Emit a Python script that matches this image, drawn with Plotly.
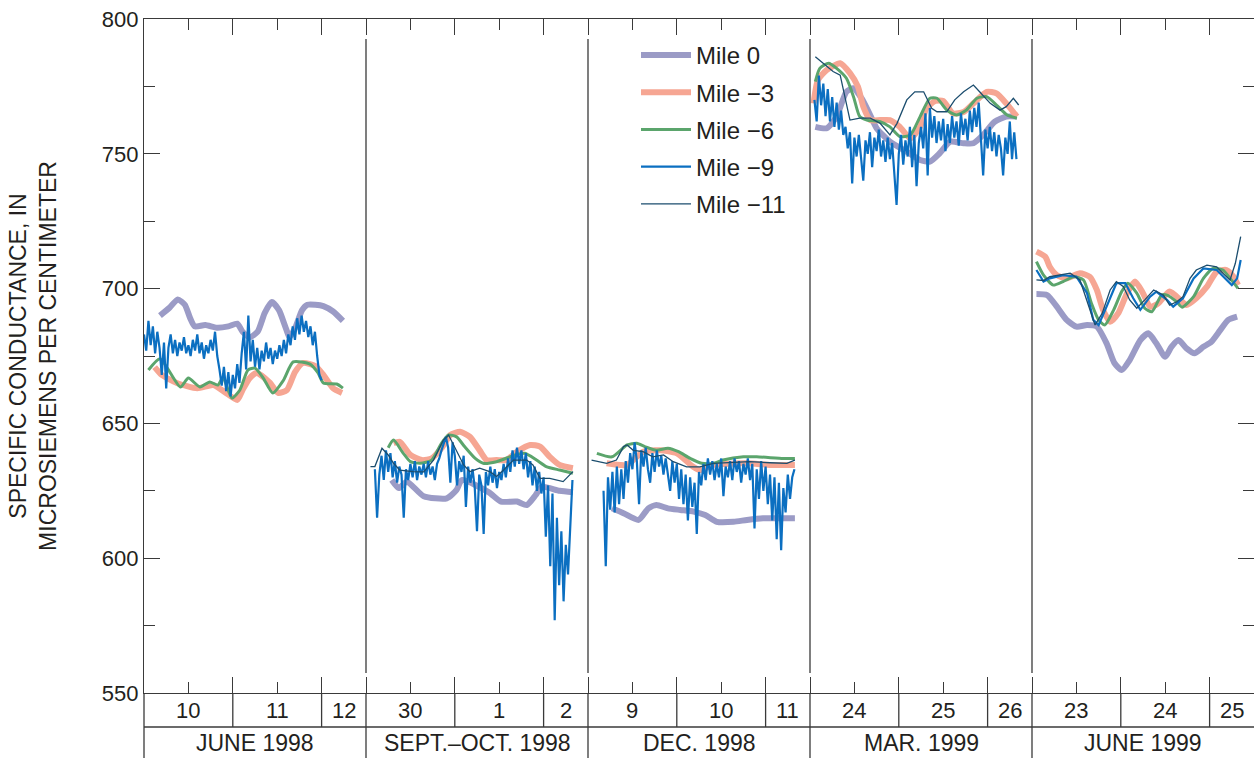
import plotly.graph_objects as go

# ---------------- DATA ----------------
PANEL_LABELS = ["JUNE 1998", "SEPT.\u2013OCT. 1998", "DEC. 1998", "MAR. 1999", "JUNE 1999"]
DAY_LABELS = [["10", "11", "12"], ["30", "1", "2"], ["9", "10", "11"], ["24", "25", "26"], ["23", "24", "25"]]
PANEL_DAYS = 2.5
Y_TICKS = [550, 600, 650, 700, 750, 800]
Y_MINOR = [575, 625, 675, 725, 775]

# Mile 0
M0_P1_T = [0.18, 0.29, 0.38, 0.46, 0.52, 0.57, 0.69, 0.82, 0.95, 1.05, 1.11, 1.19, 1.28, 1.36, 1.44, 1.52, 1.59, 1.64, 1.71, 1.78, 1.84, 1.93, 2.02, 2.13, 2.24]
M0_P1_V = [690, 693, 696, 694, 689, 686, 686.5, 685.5, 686, 687, 684, 682, 684, 691, 695, 692, 686, 682, 686, 692, 694, 694, 693.5, 691.5, 688]
M0_P2_T = [0.29, 0.37, 0.46, 0.65, 0.91, 1.02, 1.08, 1.38, 1.52, 1.70, 1.81, 1.91, 1.98, 2.18, 2.33]
M0_P2_V = [629, 626, 628.4, 623, 622.2, 625.3, 629, 624.5, 621, 621, 619.7, 623.4, 626.5, 625, 624.5]
M0_P3_T = [0.27, 0.40, 0.57, 0.68, 0.77, 0.90, 1.04, 1.19, 1.32, 1.45, 1.64, 1.79, 1.97, 2.12, 2.33]
M0_P3_V = [618.5, 616.7, 614.2, 618.5, 619.7, 618.5, 617.9, 617.3, 616, 613.5, 613.5, 614.2, 614.8, 614.8, 614.8]
M0_P4_T = [0.06, 0.19, 0.30, 0.41, 0.49, 0.58, 0.66, 0.75, 0.90, 1.09, 1.24, 1.35, 1.46, 1.58, 1.73, 1.84, 1.95, 2.08, 2.21, 2.33]
M0_P4_V = [760, 759.5, 763.8, 773, 774.3, 770.6, 765.6, 759.5, 754.5, 750.8, 747.7, 747.1, 750.2, 754.5, 753.9, 753.9, 757, 761.9, 763.8, 763.8]
M0_P5_T = [0.05, 0.17, 0.28, 0.39, 0.50, 0.62, 0.73, 0.84, 0.93, 1.01, 1.10, 1.22, 1.31, 1.40, 1.50, 1.57, 1.65, 1.74, 1.83, 1.93, 2.02, 2.12, 2.21, 2.31]
M0_P5_V = [698, 697.6, 693.3, 688.4, 685.9, 686.5, 685.9, 679.7, 672.3, 669.8, 673.5, 680.9, 683.4, 679.7, 674.7, 678.4, 680.9, 677.8, 676, 678.4, 680.3, 684.6, 688.4, 689.6]

# Mile -3
M3_P1_T = [0.12, 0.20, 0.37, 0.60, 0.78, 0.91, 1.05, 1.11, 1.19, 1.27, 1.42, 1.51, 1.61, 1.70, 1.79, 1.93, 2.02, 2.13, 2.23]
M3_P1_V = [670.9, 668, 665, 663, 664.2, 661.6, 658.7, 662.4, 666.8, 668.7, 665, 661.3, 662.4, 669, 672.4, 671.3, 668, 663, 661.3]
M3_P2_T = [0.31, 0.38, 0.50, 0.63, 0.74, 0.85, 0.95, 1.06, 1.17, 1.28, 1.36, 1.47, 1.58, 1.70, 1.85, 1.96, 2.07, 2.18, 2.33]
M3_P2_V = [642.6, 643.2, 638.3, 636.4, 637, 640.8, 645.7, 646.9, 645, 640, 636.4, 636.4, 636.4, 639.5, 642, 641.4, 637.6, 634.6, 633.4]
M3_P3_T = [0.21, 0.44, 0.62, 0.81, 1.00, 1.18, 1.26, 1.41, 1.79, 2.05, 2.33]
M3_P3_V = [635.2, 634.6, 639.5, 640, 638.9, 634, 632.7, 634.6, 635.2, 634.6, 634.6]
M3_P4_T = [0.04, 0.09, 0.19, 0.34, 0.45, 0.54, 0.60, 0.68, 0.79, 0.90, 1.01, 1.13, 1.24, 1.31, 1.41, 1.50, 1.61, 1.73, 1.84, 1.99, 2.10, 2.21, 2.33]
M3_P4_V = [768.7, 777.4, 781.1, 783.6, 779.9, 774.9, 767.5, 762.5, 762.5, 762.5, 760, 755.7, 760, 766.9, 769.6, 769.6, 765, 765.5, 768.7, 773, 772.4, 768.7, 763.8]
M3_P5_T = [0.05, 0.15, 0.20, 0.28, 0.39, 0.54, 0.65, 0.73, 0.80, 0.88, 0.97, 1.07, 1.16, 1.25, 1.33, 1.42, 1.55, 1.67, 1.74, 1.85, 1.97, 2.08, 2.19, 2.27, 2.32]
M3_P5_V = [713.7, 711.8, 708.1, 705, 703.8, 705.7, 704.4, 699.5, 692.1, 687.7, 690.8, 698.3, 702.6, 698.3, 693.3, 694.5, 698.9, 695.8, 693.9, 696.4, 700.7, 706.3, 706.9, 704.4, 701.3]

# Mile -6
M6_P1_T = [0.05, 0.18, 0.41, 0.50, 0.63, 0.74, 0.83, 0.89, 0.99, 1.08, 1.17, 1.25, 1.34, 1.45, 1.57, 1.68, 1.87, 1.96, 2.02, 2.17, 2.24]
M6_P1_V = [669.8, 674, 663.5, 666.8, 663.5, 665.4, 664.2, 667, 659.4, 662.4, 669.8, 670.5, 667, 661.3, 666, 672.8, 672, 668.7, 665, 664.6, 663.1]
M6_P2_T = [0.25, 0.31, 0.42, 0.50, 0.61, 0.74, 0.85, 0.93, 1.02, 1.11, 1.23, 1.32, 1.47, 1.68, 1.79, 1.92, 2.03, 2.18, 2.33]
M6_P2_V = [641, 643.8, 638.9, 635.8, 635.2, 636.4, 642.6, 645.7, 645, 641.4, 637, 635.2, 635.8, 638.3, 638.9, 636.4, 634, 632.7, 631.5]
M6_P3_T = [0.10, 0.27, 0.44, 0.55, 0.64, 0.77, 0.90, 1.02, 1.15, 1.28, 1.41, 1.52, 1.75, 1.90, 2.20, 2.33]
M6_P3_V = [638.9, 637.6, 642, 642.6, 641.4, 640, 640.8, 639.5, 637, 635.2, 635.2, 636.4, 637.6, 637.6, 637, 637]
M6_P4_T = [0.06, 0.11, 0.21, 0.30, 0.41, 0.49, 0.56, 0.64, 0.79, 0.90, 1.01, 1.13, 1.24, 1.35, 1.43, 1.54, 1.65, 1.76, 1.88, 1.99, 2.10, 2.22, 2.33]
M6_P4_V = [776.8, 781.7, 783.6, 781.7, 778, 771.2, 763.8, 762.5, 761.9, 760, 756.4, 757, 763.8, 770.6, 770.6, 766.2, 764.4, 766.2, 770.6, 771.2, 768.1, 764.4, 763.2]
M6_P5_T = [0.05, 0.13, 0.24, 0.35, 0.47, 0.58, 0.67, 0.75, 0.82, 0.92, 1.01, 1.08, 1.18, 1.27, 1.35, 1.46, 1.52, 1.63, 1.69, 1.82, 1.93, 2.04, 2.15, 2.23, 2.32]
M6_P5_V = [710, 705, 701.3, 702.6, 704.4, 703.2, 694.5, 688.4, 686.5, 692.1, 698.9, 702, 698.3, 692.7, 691.4, 697.6, 697.6, 695.1, 693.1, 697, 703.8, 707.5, 706.9, 703.8, 700.1]

# Mile -9 (logged every 0.025 day in panels 1-4)
M9_STEP = 0.025
M9_P1_START = 0.0
M9_P1_V = [683, 677, 688, 679, 686, 676, 684, 678, 668, 680, 663, 678, 683, 676, 681, 675, 680, 677, 682, 676,
           679, 675, 681, 677, 683, 676, 680, 674, 679, 676, 681, 677, 684, 675, 670, 664, 671, 662, 669, 660,
           668, 663, 672, 665, 676, 684, 670, 690, 673, 681, 671, 678, 670, 677, 673, 680, 674, 678, 672, 677,
           674, 679, 675, 681, 676, 683, 679, 686, 681, 689, 683, 690, 684, 688, 682, 686, 679, 684, 675, 668, 666]
M9_P2_START = 0.10
M9_P2_V = [633, 615, 631, 638, 629, 640, 632, 639, 630, 636, 628, 634, 631, 615, 633, 629, 635, 630, 636, 629,
           634, 631, 635, 630, 636, 631, 634, 629, 635, 637, 640, 643, 645, 641, 628, 643, 638, 627, 636, 632,
           638, 619, 634, 628, 633, 626, 610, 631, 627, 609, 632, 627, 634, 628, 633, 626, 632, 629, 635, 630,
           637, 632, 640, 634, 641, 635, 640, 633, 639, 630, 636, 627, 634, 625, 632, 624, 630, 608, 627, 597,
           624, 577, 615, 590, 610, 584, 605, 594, 611, 629]
M9_P3_START = 0.175
M9_P3_V = [625, 597, 630, 618, 632, 617, 634, 620, 633, 622, 636, 628, 639, 633, 643, 636, 620, 640, 634, 641,
           633, 628, 639, 632, 640, 634, 638, 631, 637, 630, 625, 636, 628, 635, 622, 633, 620, 631, 614, 630,
           619, 628, 609, 632, 627, 635, 629, 637, 631, 636, 629, 635, 630, 637, 623, 634, 630, 636, 629, 637,
           632, 636, 628, 635, 631, 637, 629, 635, 611, 633, 622, 636, 625, 634, 620, 631, 614, 630, 607, 628,
           603, 626, 617, 631, 622, 630, 633]
M9_P4_START = 0.05
M9_P4_V = [770, 762, 779, 768, 776, 764, 774, 762, 771, 760, 769, 759, 766, 757, 760, 752, 758, 739, 756, 749,
           757, 748, 740, 755, 750, 758, 745, 756, 751, 759, 749, 755, 747, 756, 748, 754, 742, 731, 750, 757,
           746, 755, 749, 760, 745, 757, 738, 754, 760, 752, 765, 742, 767, 756, 764, 754, 762, 755, 763, 751,
           761, 754, 764, 756, 762, 753, 765, 757, 763, 755, 766, 758, 767, 760, 769, 757, 742, 759, 752, 760,
           751, 758, 749, 757, 752, 742, 756, 750, 762, 748, 758, 748]
M9_P5_T = [0.05, 0.13, 0.20, 0.35, 0.50, 0.62, 0.69, 0.75, 0.84, 0.95, 1.05, 1.14, 1.22, 1.33, 1.40, 1.52, 1.59, 1.70, 1.82, 1.93, 2.08, 2.19, 2.25, 2.31, 2.35]
M9_P5_V = [706.9, 702.6, 703.8, 705, 704.4, 698.3, 688.4, 686.5, 693.3, 702, 702, 696.4, 692.1, 697, 698.9, 695.8, 693.3, 696.4, 703.8, 707.5, 706.9, 703.2, 701.3, 703.8, 710.6]

# Mile -11
M11_P2_T = [0.05, 0.10, 0.18, 0.25, 0.31, 0.38, 0.53, 0.65, 0.76, 0.87, 0.93, 1.02, 1.10, 1.17, 1.28, 1.40, 1.47, 1.55, 1.66, 1.81, 1.88, 1.96, 2.07, 2.22, 2.33]
M11_P2_V = [634, 634, 640.8, 638.3, 635.2, 632.7, 632.1, 632, 636.4, 643.8, 645.7, 640, 634.6, 632.1, 633.4, 632, 630.3, 632.7, 636.4, 636.4, 634.6, 629.6, 629.6, 628.4, 632.1]
M11_P3_T = [0.04, 0.21, 0.32, 0.40, 0.44, 0.51, 0.62, 0.73, 0.85, 0.96, 1.11, 1.26, 1.41, 1.82, 2.05, 2.24, 2.33]
M11_P3_V = [636.4, 635.2, 636.4, 641.4, 642, 640, 639.5, 637.6, 638.3, 635.8, 633.9, 633.9, 635.2, 635.8, 635.4, 635.2, 636.4]
M11_P4_T = [0.06, 0.13, 0.19, 0.26, 0.34, 0.39, 0.45, 0.56, 0.68, 0.79, 0.90, 0.98, 1.09, 1.18, 1.28, 1.37, 1.43, 1.54, 1.63, 1.73, 1.84, 1.91, 2.03, 2.14, 2.21, 2.29, 2.35]
M11_P4_V = [786, 784.2, 782.3, 780.5, 779.2, 771.2, 762.5, 763.2, 763.2, 761.3, 757, 761.3, 770, 773, 773, 766.9, 765.6, 765.6, 770, 773, 775.5, 773, 768.7, 766.2, 767.5, 770.6, 768.1]
M11_P5_T = [0.05, 0.13, 0.20, 0.32, 0.43, 0.54, 0.65, 0.71, 0.79, 0.88, 0.95, 1.03, 1.10, 1.18, 1.27, 1.37, 1.48, 1.55, 1.63, 1.70, 1.78, 1.85, 1.97, 2.08, 2.15, 2.23, 2.29, 2.35]
M11_P5_V = [703.2, 703, 704.4, 705, 705.7, 703.2, 692.1, 686.5, 690.8, 699.5, 702.6, 700.7, 695.8, 692.7, 695.8, 699.5, 697.6, 693.9, 695.1, 697, 703.8, 706.9, 708.7, 708.1, 705.7, 703.2, 709.4, 719.3]

# ---------------- HELPERS ----------------
def regular_times(start, n):
    return [start + M9_STEP * i for i in range(n)]

def combine(segments):
    xs, ys = [], []
    for panel, times, vals in segments:
        if xs:
            xs.append(None)
            ys.append(None)
        xs.extend(panel * PANEL_DAYS + t for t in times)
        ys.extend(vals)
    return xs, ys

SERIES = [
    ("Mile 0", "#9b9bc6", 6, "spline", [(0, M0_P1_T, M0_P1_V), (1, M0_P2_T, M0_P2_V), (2, M0_P3_T, M0_P3_V), (3, M0_P4_T, M0_P4_V), (4, M0_P5_T, M0_P5_V)]),
    ("Mile \u22123", "#f6a693", 6, "spline", [(0, M3_P1_T, M3_P1_V), (1, M3_P2_T, M3_P2_V), (2, M3_P3_T, M3_P3_V), (3, M3_P4_T, M3_P4_V), (4, M3_P5_T, M3_P5_V)]),
    ("Mile \u22126", "#5ba56c", 3, "spline", [(0, M6_P1_T, M6_P1_V), (1, M6_P2_T, M6_P2_V), (2, M6_P3_T, M6_P3_V), (3, M6_P4_T, M6_P4_V), (4, M6_P5_T, M6_P5_V)]),
    ("Mile \u22129", "#0b6fc1", 2.2, "linear", [(0, regular_times(M9_P1_START, len(M9_P1_V)), M9_P1_V),
                                             (1, regular_times(M9_P2_START, len(M9_P2_V)), M9_P2_V),
                                             (2, regular_times(M9_P3_START, len(M9_P3_V)), M9_P3_V),
                                             (3, regular_times(M9_P4_START, len(M9_P4_V)), M9_P4_V),
                                             (4, M9_P5_T, M9_P5_V)]),
    ("Mile \u221211", "#1b4d6e", 1.3, "linear", [(1, M11_P2_T, M11_P2_V), (2, M11_P3_T, M11_P3_V), (3, M11_P4_T, M11_P4_V), (4, M11_P5_T, M11_P5_V)]),
]

INK = "#231f20"
AX = "#3a3a3a"
FONT = "Liberation Sans"

fig = go.Figure()
for i, (name, color, width, shape, segs) in enumerate(SERIES):
    xs, ys = combine(segs)
    line = dict(color=color, width=width, shape=shape)
    if shape == "spline":
        line["smoothing"] = 0.6
    fig.add_trace(go.Scatter(x=xs, y=ys, mode="lines", name=name, line=line,
                             legendgroup=str(i), connectgaps=False, hoverinfo="skip"))

n_panels = len(PANEL_LABELS)
total = n_panels * PANEL_DAYS
day_bounds, noons, panel_bounds = [], [], []
for p in range(n_panels):
    base = p * PANEL_DAYS
    for d in (1, 2):
        day_bounds.append(base + d)
    for d in (0.5, 1.5):
        noons.append(base + d)
    if p > 0:
        panel_bounds.append(base)

fig.update_xaxes(range=[0, total], showline=True, linecolor=AX, linewidth=1.3, mirror="ticks",
                 ticks="inside", ticklen=16, tickwidth=1.3, tickcolor=AX,
                 tickvals=sorted(day_bounds + panel_bounds), showticklabels=False,
                 showgrid=False, zeroline=False,
                 minor=dict(tickvals=noons, ticklen=11, ticks="inside", tickwidth=1.3, tickcolor=AX, showgrid=False))
fig.update_yaxes(range=[550, 800], showline=True, linecolor=AX, linewidth=1.3, mirror="ticks",
                 ticks="inside", ticklen=16, tickwidth=1.3, tickcolor=AX,
                 tickvals=Y_TICKS, ticktext=[str(v) for v in Y_TICKS],
                 tickfont=dict(family=FONT, size=22, color=INK),
                 showgrid=False, zeroline=False,
                 minor=dict(tickvals=Y_MINOR, ticklen=11, ticks="inside", tickwidth=1.3, tickcolor=AX, showgrid=False),
                 title=dict(text="SPECIFIC CONDUCTANCE, IN<br>MICROSIEMENS PER CENTIMETER",
                            font=dict(family=FONT, size=23, color=INK), standoff=38))

H_PLOT = 674.0
ROW1 = -34 / H_PLOT
ROW2 = -65 / H_PLOT
shapes = []
for xb in panel_bounds:
    shapes.append(dict(type="line", xref="x", yref="paper", x0=xb, x1=xb, y0=20 / H_PLOT, y1=1 - 20 / H_PLOT,
                       line=dict(color=AX, width=1.3)))
    shapes.append(dict(type="line", xref="x", yref="paper", x0=xb, x1=xb, y0=0, y1=ROW2, line=dict(color=AX, width=1.3)))
for xb in day_bounds:
    shapes.append(dict(type="line", xref="x", yref="paper", x0=xb, x1=xb, y0=0, y1=ROW1, line=dict(color=AX, width=1.3)))
shapes.append(dict(type="line", xref="paper", yref="paper", x0=0, x1=1, y0=ROW1, y1=ROW1, line=dict(color=AX, width=1.3)))
shapes.append(dict(type="line", xref="paper", yref="paper", x0=0, x1=0, y0=0, y1=ROW2, line=dict(color=AX, width=1.3)))

annotations = []
for p in range(n_panels):
    base = p * PANEL_DAYS
    for lab, c in zip(DAY_LABELS[p], (0.5, 1.5, 2.25)):
        annotations.append(dict(x=base + c, y=-17 / H_PLOT, xref="x", yref="paper", text=lab, showarrow=False,
                                font=dict(family=FONT, size=22, color=INK), yanchor="middle"))
    annotations.append(dict(x=base + PANEL_DAYS / 2, y=-50 / H_PLOT, xref="x", yref="paper", text=PANEL_LABELS[p],
                            showarrow=False, font=dict(family=FONT, size=23, color=INK), yanchor="middle"))

fig.update_layout(
    width=1254, height=758, autosize=False,
    margin=dict(l=144, r=0, t=19, b=65),
    paper_bgcolor="white", plot_bgcolor="white",
    font=dict(family=FONT, color=INK),
    shapes=shapes, annotations=annotations,
    legend=dict(x=(636 - 144) / 1110, y=1 - (33 - 19) / H_PLOT, xanchor="left", yanchor="top",
                font=dict(family=FONT, size=24, color=INK), bgcolor="rgba(0,0,0,0)",
                tracegroupgap=3, itemwidth=50),
    showlegend=True,
)

fig.write_html("out.html", config={"displayModeBar": False},
               post_script="document.body.style.margin='0px';document.body.style.overflow='hidden';")
